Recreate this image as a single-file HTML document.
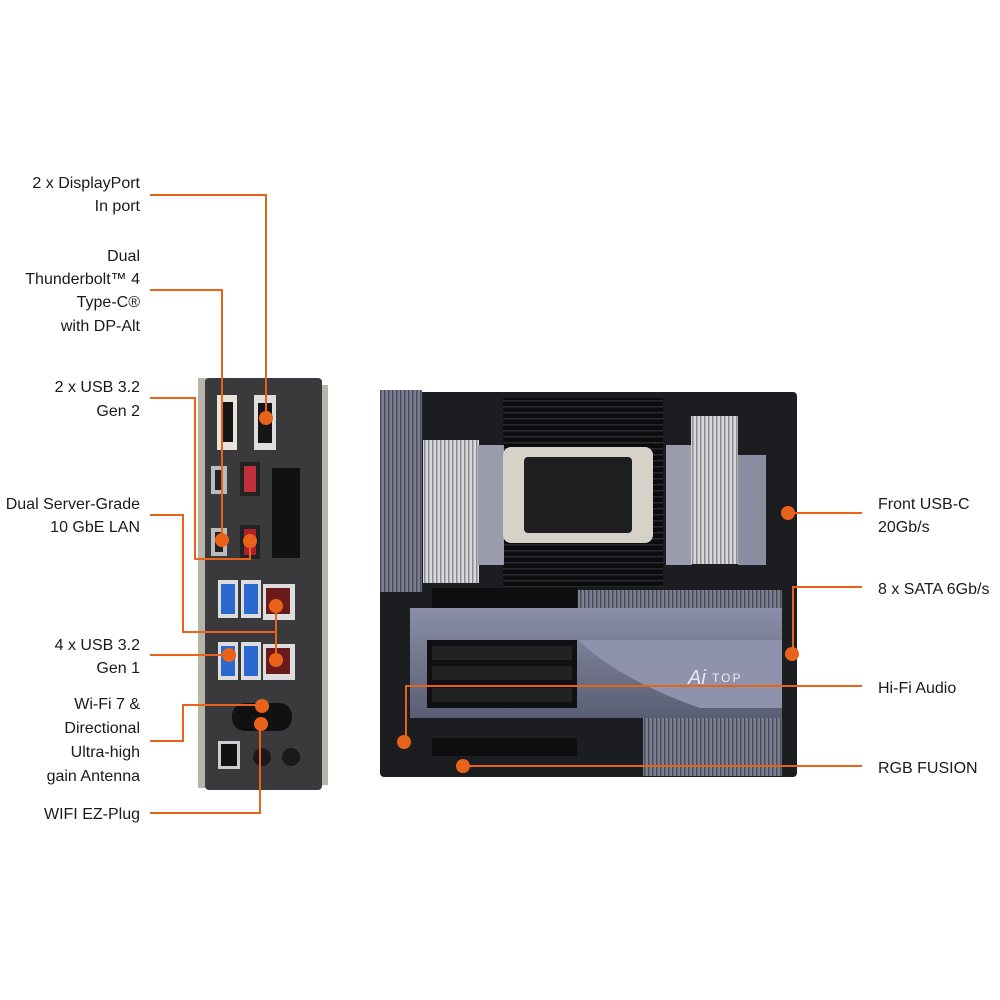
<!DOCTYPE html>
<html><head><meta charset="utf-8"><style>
html,body{margin:0;padding:0;background:#fff;}
svg{display:block;}
text{font-family:"Liberation Sans",sans-serif;font-size:16px;fill:#1a1a1a;}
</style></head><body>
<svg width="1000" height="1000" viewBox="0 0 1000 1000" xmlns="http://www.w3.org/2000/svg">
<defs>
<pattern id="fins" width="4" height="4" patternUnits="userSpaceOnUse"><rect width="4" height="4" fill="#d8d8dc"/><rect width="1.5" height="4" fill="#8a8a92"/></pattern>
<pattern id="fins2" width="4" height="4" patternUnits="userSpaceOnUse"><rect width="4" height="4" fill="#7a7e8e"/><rect width="1.5" height="4" fill="#4a4e5c"/></pattern>
<pattern id="dram" width="4" height="6" patternUnits="userSpaceOnUse"><rect width="4" height="6" fill="#0c0c0e"/><rect y="4" width="4" height="1.5" fill="#2a2a30"/></pattern>
<linearGradient id="shroud" x1="0" y1="0" x2="0" y2="1"><stop offset="0" stop-color="#8a8ea6"/><stop offset="1" stop-color="#5a5e74"/></linearGradient>
</defs>

<rect x="198" y="378" width="12" height="410" fill="#b8b4aa"/>
<rect x="316" y="385" width="12" height="400" fill="#b8b4aa"/>
<rect x="205" y="378" width="117" height="412" rx="4" fill="#3a3a3c"/>
<rect x="217" y="395" width="20" height="55" fill="#e8e4dc"/><rect x="221" y="402" width="12" height="40" fill="#151515"/>
<rect x="254" y="395" width="22" height="55" fill="#ddd"/><rect x="258" y="403" width="14" height="40" fill="#151515"/>
<rect x="211" y="466" width="16" height="28" fill="#bbb"/><rect x="215" y="470" width="8" height="20" fill="#222"/>
<rect x="240" y="462" width="20" height="34" fill="#222"/><rect x="244" y="466" width="12" height="26" fill="#c0303a"/>
<rect x="211" y="528" width="16" height="28" fill="#bbb"/><rect x="215" y="532" width="8" height="20" fill="#222"/>
<rect x="240" y="525" width="20" height="34" fill="#222"/><rect x="244" y="529" width="12" height="26" fill="#b0202a"/>
<g fill="#111"><rect x="272" y="468" width="28" height="90"/></g>
<rect x="218" y="580" width="20" height="38" fill="#ddd"/><rect x="221" y="584" width="14" height="30" fill="#2a6ad0"/>
<rect x="241" y="580" width="20" height="38" fill="#ddd"/><rect x="244" y="584" width="14" height="30" fill="#2a6ad0"/>
<rect x="263" y="584" width="32" height="36" fill="#ddd"/><rect x="266" y="588" width="24" height="26" fill="#6a1a1a"/>
<rect x="218" y="642" width="20" height="38" fill="#ddd"/><rect x="221" y="646" width="14" height="30" fill="#2a6ad0"/>
<rect x="241" y="642" width="20" height="38" fill="#ddd"/><rect x="244" y="646" width="14" height="30" fill="#2a6ad0"/>
<rect x="263" y="644" width="32" height="36" fill="#ddd"/><rect x="266" y="648" width="24" height="26" fill="#6a1a1a"/>
<rect x="232" y="703" width="60" height="28" rx="13" fill="#111"/>
<rect x="218" y="741" width="22" height="28" fill="#ccc"/><rect x="221" y="744" width="16" height="22" fill="#111"/>
<circle cx="262" cy="757" r="9" fill="#1a1a1a"/><circle cx="291" cy="757" r="9" fill="#1a1a1a"/>

<rect x="380" y="392" width="417" height="385" rx="4" fill="#1c1d20"/>
<rect x="503" y="398" width="160" height="190" fill="url(#dram)"/>
<rect x="380" y="390" width="42" height="202" fill="url(#fins2)"/>
<rect x="423" y="440" width="56" height="143" fill="url(#fins)"/>
<rect x="478" y="445" width="26" height="120" fill="#9a9cae"/>
<rect x="666" y="445" width="26" height="120" fill="#9a9cae"/>
<rect x="691" y="416" width="47" height="148" fill="url(#fins)"/>
<rect x="738" y="455" width="28" height="110" fill="#8a8ea0"/>
<rect x="503" y="447" width="150" height="96" rx="8" fill="#d6d2c8"/>
<rect x="524" y="457" width="108" height="76" rx="4" fill="#1e1e20"/>
<rect x="578" y="590" width="204" height="20" fill="url(#fins2)"/>
<rect x="432" y="588" width="145" height="20" fill="#0e0e10"/>
<rect x="410" y="608" width="372" height="110" fill="url(#shroud)"/>
<rect x="427" y="640" width="150" height="68" fill="#101012"/>
<rect x="432" y="646" width="140" height="14" fill="#222"/><rect x="432" y="666" width="140" height="14" fill="#222"/><rect x="432" y="688" width="140" height="14" fill="#222"/>
<path d="M578 640 L782 640 L782 708 L700 708 Q620 680 578 640Z" fill="#8e92aa"/>
<text x="688" y="684" style="font-size:20px;font-style:italic;fill:#e8e8f0">Ai</text>
<text x="712" y="682" style="font-size:12px;fill:#e8e8f0;letter-spacing:2px">TOP</text>
<rect x="432" y="738" width="145" height="18" fill="#0e0e10"/>
<rect x="643" y="718" width="139" height="58" fill="url(#fins2)"/>

<g stroke="#e8621a" stroke-width="2" fill="none">
<polyline points="150,195 266,195 266,420"/>
<polyline points="150,290 222,290 222,540"/>
<polyline points="150,398 195,398 195,559 250,559 250,540"/>
<polyline points="150,515 183,515 183,632 277,632"/>
<line x1="276" y1="606" x2="276" y2="660"/>
<polyline points="150,655 229,655"/>
<polyline points="150,741 183,741 183,705 262,705"/>
<polyline points="150,813 260,813 260,724"/>
<polyline points="862,513 788,513"/>
<polyline points="862,587 793,587 793,654"/>
<polyline points="862,686 406,686 406,742"/>
<polyline points="862,766 463,766"/>
</g>
<g fill="#e8621a">
<circle cx="266" cy="418" r="7"/><circle cx="222" cy="540" r="7"/><circle cx="250" cy="541" r="7"/>
<circle cx="276" cy="606" r="7"/><circle cx="276" cy="660" r="7"/><circle cx="229" cy="655" r="7"/>
<circle cx="262" cy="706" r="7"/><circle cx="261" cy="724" r="7"/>
<circle cx="788" cy="513" r="7"/><circle cx="792" cy="654" r="7"/><circle cx="404" cy="742" r="7"/><circle cx="463" cy="766" r="7"/>
</g>

<g text-anchor="end">
<text x="140" y="188">2 x DisplayPort</text><text x="140" y="211">In port</text>
<text x="140" y="261">Dual</text><text x="140" y="284">Thunderbolt™ 4</text><text x="140" y="307">Type-C®</text><text x="140" y="331">with DP-Alt</text>
<text x="140" y="392">2 x USB 3.2</text><text x="140" y="416">Gen 2</text>
<text x="140" y="509">Dual Server-Grade</text><text x="140" y="532">10 GbE LAN</text>
<text x="140" y="650">4 x USB 3.2</text><text x="140" y="673">Gen 1</text>
<text x="140" y="709">Wi-Fi 7 &amp;</text><text x="140" y="733">Directional</text><text x="140" y="757">Ultra-high</text><text x="140" y="781">gain Antenna</text>
<text x="140" y="819">WIFI EZ-Plug</text>
</g>
<text x="878" y="509">Front USB-C</text><text x="878" y="532">20Gb/s</text>
<text x="878" y="594">8 x SATA 6Gb/s</text>
<text x="878" y="693">Hi-Fi Audio</text>
<text x="878" y="773">RGB FUSION</text>
</svg>
</body></html>
